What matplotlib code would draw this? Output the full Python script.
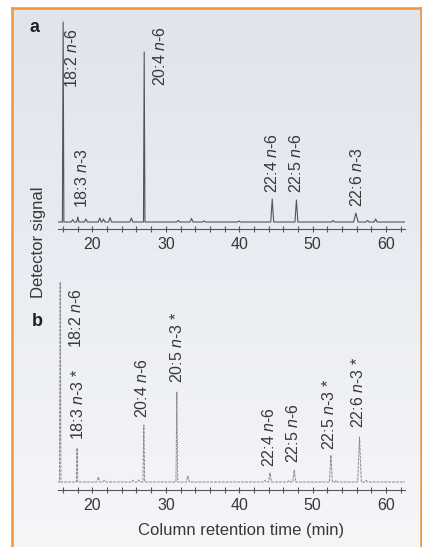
import numpy as np
import matplotlib.pyplot as plt
from matplotlib.ticker import MultipleLocator
from matplotlib.colors import LinearSegmentedColormap

plt.rcParams['font.family'] = ['Liberation Sans', 'DejaVu Sans']
plt.rcParams['mathtext.fontset'] = 'custom'
plt.rcParams['mathtext.rm'] = 'Liberation Sans'
plt.rcParams['mathtext.it'] = 'Liberation Sans:italic'

# Panel a : peaks (retention time in min, signal in % of largest peak)
peak_time_a = [16.0, 18.0, 27.05, 44.5, 47.8, 55.9]
peak_height_a = [100, 2.5, 85, 11.5, 11, 4.5]
peak_width_a = [0.1, 0.15, 0.1, 0.2, 0.2, 0.3]
label_a = ['18:2 $n$-6', '18:3 $n$-3', '20:4 $n$-6', '22:4 $n$-6', '22:5 $n$-6', '22:6 $n$-3']
label_time_a = [17.25, 18.6, 29.2, 44.45, 47.7, 56.0]
label_base_a = [67, 7, 68, 14.5, 14.5, 7.5]
minor_time_a = [17.3, 19.1, 21.0, 21.5, 22.4, 25.3, 31.7, 33.5, 35.2, 40.0, 52.8, 57.5, 58.6]
minor_height_a = [1.2, 1.5, 2.0, 1.5, 2.2, 2.0, 0.8, 1.8, 0.6, 0.5, 0.8, 0.8, 1.5]

# Panel b
peak_time_b = [15.6, 17.9, 27.0, 31.5, 44.2, 47.5, 52.5, 56.4]
peak_height_b = [100, 17, 28.5, 45, 4.5, 6, 13.5, 22.5]
peak_width_b = [0.1, 0.1, 0.12, 0.12, 0.2, 0.2, 0.2, 0.25]
label_b = ['18:2 $n$-6', '18:3 $n$-3 *', '20:4 $n$-6', '20:5 $n$-3 *',
           '22:4 $n$-6', '22:5 $n$-6', '22:5 $n$-3 *', '22:6 $n$-3 *']
label_time_b = [17.7, 18.05, 26.75, 31.5, 44.05, 47.3, 52.2, 56.2]
label_base_b = [67, 21, 32, 49.5, 7.5, 9.5, 16, 27]
minor_time_b = [20.8, 21.6, 25.5, 26.3, 33.0, 43.5, 46.8, 53.2, 57.3]
minor_height_b = [2.5, 0.8, 0.8, 1.0, 3.0, 0.8, 0.8, 0.8, 0.8]

xmin, xmax = 15.3, 62.6


def trace(times, heights, widths):
    xs = [xmin]
    ys = [0]
    for t, h, w in sorted(zip(times, heights, widths)):
        xs += [t - w, t, t + w]
        ys += [0, h, 0]
    xs.append(xmax)
    ys.append(0)
    return xs, ys


W, H = 422, 547
fig = plt.figure(figsize=(W / 100, H / 100), dpi=100)
fig.patch.set_facecolor('white')

# background panel with soft gradient and orange frame
bg = fig.add_axes([12 / W, 0, (421 - 12) / W, (H - 8) / H])
grad = np.linspace(0, 1, 256).reshape(-1, 1)
cm = LinearSegmentedColormap.from_list('bg', ['#f5f6f8', '#dfe4ed'])
bg.imshow(grad, aspect='auto', cmap=cm, origin='lower', extent=[0, 1, 0, 1])
bg.set_xlim(0, 1)
bg.set_ylim(0, 1)
bg.set_xticks([])
bg.set_yticks([])
for s in ['left', 'top', 'right']:
    bg.spines[s].set_color('#f0963a')
    bg.spines[s].set_linewidth(1.8)
bg.spines['bottom'].set_visible(False)

text_col = '#383838'


def panel(rect, ylo, times, heights, widths, mtimes, mheights, labels, ltimes, lbases, col, lw, ls):
    ax = fig.add_axes(rect)
    ax.patch.set_alpha(0)
    xs, ys = trace(list(times) + list(mtimes), list(heights) + list(mheights),
                   list(widths) + [0.2] * len(mtimes))
    ax.plot(xs, ys, color=col, lw=lw, ls=ls)
    for lab, t, b in zip(labels, ltimes, lbases):
        ax.text(t, b, lab, rotation=90, ha='center', va='bottom', fontsize=11.5, color=text_col)
    ax.set_xlim(xmin, xmax)
    ax.set_ylim(ylo, 103.5)
    for s in ['left', 'top', 'right']:
        ax.spines[s].set_visible(False)
    ax.spines['bottom'].set_color('#555555')
    ax.spines['bottom'].set_linewidth(0.8)
    ax.set_yticks([])
    ax.xaxis.set_major_locator(MultipleLocator(10))
    ax.xaxis.set_minor_locator(MultipleLocator(2))
    ax.tick_params(axis='x', which='both', direction='inout', length=5, width=0.8,
                   color='#555555', labelsize=11.5, labelcolor=text_col, pad=3)
    return ax


ax_a = panel([58 / W, 1 - 229 / H, 347 / W, 214 / H], -3.5,
             peak_time_a, peak_height_a, peak_width_a, minor_time_a, minor_height_a,
             label_a, label_time_a, label_base_a, '#555555', 0.8, '-')
ax_b = panel([58 / W, 1 - 490 / H, 347 / W, 215 / H], -4,
             peak_time_b, peak_height_b, peak_width_b, minor_time_b, minor_height_b,
             label_b, label_time_b, label_base_b, '#8a8a8a', 0.7, (0, (3, 1)))

fig.text(241 / W, 1 - 530 / H, 'Column retention time (min)', ha='center', va='center',
         fontsize=12, color=text_col)
fig.text(38 / W, 1 - 242 / H, 'Detector signal', rotation=90, ha='center', va='center',
         fontsize=12, color=text_col)
fig.text(34 / W, 1 - 28 / H, 'a', ha='center', va='center', fontsize=13,
         fontweight='bold', color='#222222')
fig.text(37 / W, 1 - 322 / H, 'b', ha='center', va='center', fontsize=13,
         fontweight='bold', color='#222222')

fig.savefig('out.png', dpi=100)
